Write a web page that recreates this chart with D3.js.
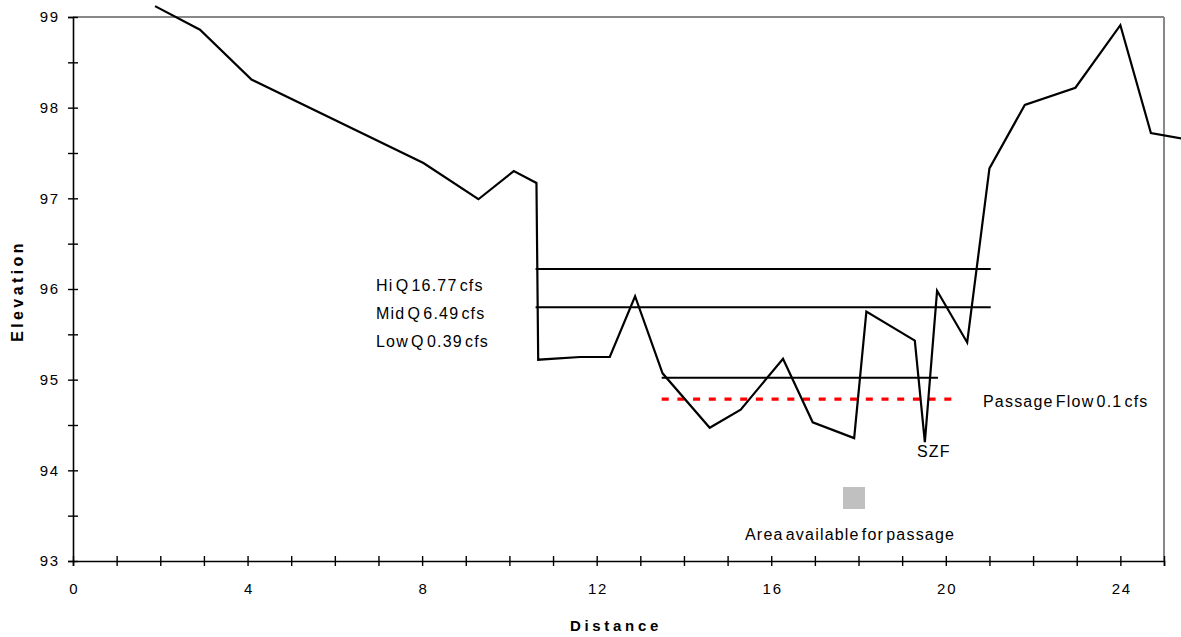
<!DOCTYPE html>
<html>
<head>
<meta charset="utf-8">
<script src="https://cdn.jsdelivr.net/npm/d3@7"></script>
<style>
  html, body { margin: 0; padding: 0; background: #fff; }
  svg { display: block; font-family: "Liberation Sans", Arial, sans-serif; }
</style>
</head>
<body>
<svg id="chart" width="1181" height="637"></svg>
<script>
// ---- data ----
const distance = [1.88, 2.91, 4.09, 8.03, 9.29, 10.1, 10.62, 10.66, 11.62, 12.3, 12.88, 13.51, 14.59, 15.30, 16.27, 16.95, 17.9, 18.18, 19.29, 19.52, 19.80, 20.49, 21.0, 21.81, 22.97, 24.0, 24.7, 25.4];
const elevation = [99.12, 98.86, 98.31, 97.39, 96.99, 97.30, 97.17, 95.22, 95.25, 95.25, 95.92, 95.07, 94.47, 94.67, 95.23, 94.53, 94.355, 95.75, 95.43, 94.31, 95.98, 95.41, 97.33, 98.03, 98.22, 98.91, 97.72, 97.66];

const flowNames = ["Hi Q 16.77 cfs", "Mid Q 6.49 cfs", "Low Q 0.39 cfs"];
const flowLevels = [96.22, 95.80, 95.02];
const flowStart = [10.6, 10.6, 13.49];
const flowEnd = [21.03, 21.03, 19.82];

const passageLabel = "Passage Flow 0.1 cfs";
const passageLevel = 94.785;
const passageStart = 13.49;
const passageEnd = 20.24;

const xTickLabels = [0, 4, 8, 12, 16, 20, 24];
const xMinorTicks = d3.range(0, 26, 1);
const yTickLabels = [93, 94, 95, 96, 97, 98, 99];
const yMinorTicks = d3.range(93, 99.01, 0.5);

// ---- layout ----
const svg = d3.select("#chart");
const x = d3.scaleLinear().domain([0, 25]).range([73, 1164]);
const y = d3.scaleLinear().domain([93, 99]).range([561, 17]);

// frame (top & right gray)
svg.append("line").attr("x1", x(0)).attr("x2", x(25)).attr("y1", y(99)).attr("y2", y(99))
  .attr("stroke", "#888").attr("stroke-width", 2);
svg.append("line").attr("x1", x(25)).attr("x2", x(25)).attr("y1", y(99)).attr("y2", y(93))
  .attr("stroke", "#888").attr("stroke-width", 2);

// y axis
const yAxis = svg.append("g").attr("transform", `translate(${x(0)},0)`)
  .call(d3.axisLeft(y).tickValues(yMinorTicks).tickSize(5)
    .tickFormat(d => yTickLabels.includes(d) ? d3.format("d")(d) : ""));
yAxis.select(".domain").attr("stroke", "#000").attr("stroke-width", 1.6);
yAxis.selectAll(".tick line").attr("x1", 5).attr("x2", -5).attr("stroke", "#000").attr("stroke-width", 1.4);
yAxis.selectAll(".tick text").attr("x", -13).attr("font-size", 15).attr("letter-spacing", 1.8)
  .attr("font-family", "'Liberation Sans', Arial, sans-serif").attr("fill", "#000");

// x axis
const xAxis = svg.append("g").attr("transform", `translate(0,${y(93)})`)
  .call(d3.axisBottom(x).tickValues(xMinorTicks).tickSize(5)
    .tickFormat(d => xTickLabels.includes(d) ? d3.format("d")(d) : ""));
xAxis.select(".domain").attr("stroke", "#000").attr("stroke-width", 1.6);
xAxis.selectAll(".tick line").attr("y1", -5).attr("y2", 5).attr("stroke", "#000").attr("stroke-width", 1.4);
xAxis.selectAll(".tick text").attr("y", 22).attr("dx", 0.9).attr("font-size", 15).attr("letter-spacing", 1.8)
  .attr("font-family", "'Liberation Sans', Arial, sans-serif").attr("fill", "#000");

// axis titles
svg.append("text").attr("x", 616).attr("y", 631).attr("text-anchor", "middle")
  .attr("font-size", 15).attr("font-weight", "bold").attr("letter-spacing", 3.7)
  .text("Distance");
svg.append("text").attr("transform", "translate(23,291) rotate(-90)").attr("text-anchor", "middle")
  .attr("font-size", 16).attr("font-weight", 900).attr("letter-spacing", 3.4)
  .text("Elevation");

// flow lines
flowLevels.forEach((lv, i) => {
  svg.append("line").attr("x1", x(flowStart[i])).attr("x2", x(flowEnd[i]))
    .attr("y1", y(lv)).attr("y2", y(lv)).attr("stroke", "#000").attr("stroke-width", 2);
});

// passage dashed line
svg.append("line").attr("x1", x(passageStart)).attr("x2", x(passageEnd))
  .attr("y1", y(passageLevel)).attr("y2", y(passageLevel))
  .attr("stroke", "#ff0000").attr("stroke-width", 3.2).attr("stroke-dasharray", "7,8.7");

// profile line
const line = d3.line().x((d, i) => x(distance[i])).y((d, i) => y(elevation[i]));
svg.append("path").datum(distance).attr("d", line)
  .attr("fill", "none").attr("stroke", "#000").attr("stroke-width", 2.2).attr("stroke-linejoin", "miter");

// labels
const labelStyle = sel => sel.attr("font-size", 16).attr("letter-spacing", 1.2).attr("word-spacing", -3.5).attr("fill", "#000");
const flowLabelY = [291, 319, 346.5];
flowNames.forEach((t, i) => {
  svg.append("text").attr("x", 376).attr("y", flowLabelY[i]).call(labelStyle).text(t);
});
svg.append("text").attr("x", 983).attr("y", 407).call(labelStyle).text(passageLabel);
svg.append("text").attr("x", 917).attr("y", 457).call(labelStyle).text("SZF");

// area legend
svg.append("rect").attr("x", 843).attr("y", 487).attr("width", 22).attr("height", 22).attr("fill", "#c0c0c0");
svg.append("text").attr("x", 745).attr("y", 540).call(labelStyle).text("Area available for passage");
</script>
</body>
</html>
